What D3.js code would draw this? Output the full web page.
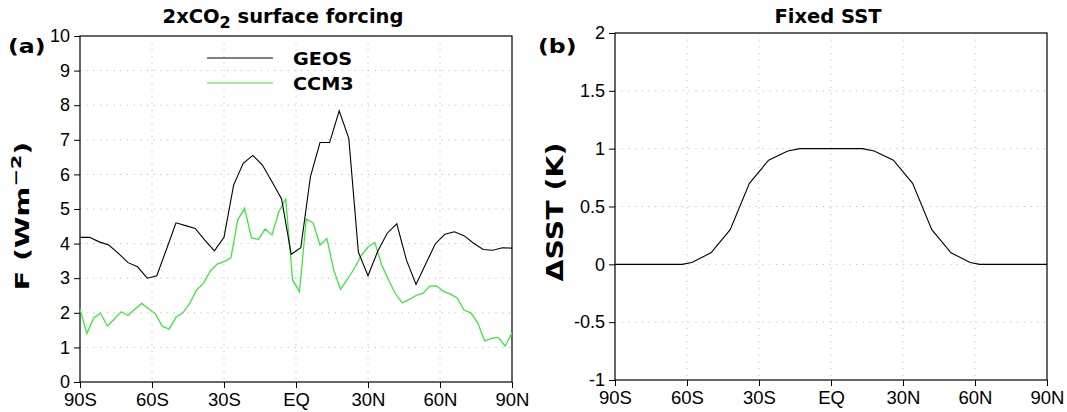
<!DOCTYPE html>
<html><head><meta charset="utf-8">
<script src="https://cdn.jsdelivr.net/npm/d3@7/dist/d3.min.js"></script>
<style>
html,body{margin:0;padding:0;background:#fff;}
svg{display:block;}
.tick text{font-family:"Liberation Sans",Arial,sans-serif;}
</style>
</head><body>
<svg id="c" width="1067" height="412"></svg>
<script>
// ---------- data ----------
// GEOS forcing, 4-degree latitude grid (W m-2)
const geosLat = [-90,-86,-82,-78,-74,-70,-66,-62,-58,-54,-50,-46,-42,-38,-34,-30,-26,-22,-18,-14,-10,-6,-2,2,6,10,14,18,22,26,30,34,38,42,46,50,54,58,62,66,70,74,78,82,86,90];
const geosF = [4.18,4.18,4.05,3.96,3.72,3.45,3.33,3.0,3.07,3.83,4.6,4.52,4.44,4.1,3.79,4.18,5.69,6.32,6.55,6.27,5.79,5.29,3.69,3.88,5.93,6.92,6.92,7.84,7.04,3.75,3.07,3.77,4.3,4.57,3.53,2.82,3.4,3.99,4.27,4.34,4.23,4.01,3.83,3.81,3.88,3.87];
// CCM3 forcing, 64 latitudes from 90S to 90N (W m-2)
const ccm3F = [2.11,1.40,1.85,1.99,1.62,1.82,2.03,1.92,2.10,2.27,2.12,1.97,1.61,1.53,1.87,2.0,2.27,2.66,2.85,3.21,3.41,3.48,3.58,4.68,5.02,4.17,4.12,4.42,4.25,4.92,5.29,2.95,2.61,4.71,4.60,3.96,4.15,3.24,2.68,2.97,3.28,3.65,3.90,4.03,3.38,2.95,2.55,2.29,2.38,2.50,2.56,2.77,2.78,2.62,2.54,2.43,2.08,2.0,1.71,1.19,1.26,1.29,1.04,1.42];
const ccm3Lat = ccm3F.map((d,i)=> -90 + i*180/(ccm3F.length-1));
// Fixed SST perturbation (K)
const sstLat = [-90,-62,-58,-50,-42,-34,-26,-18,-13,13,18,26,34,42,50,58,62,90];
const sstD   = [0,0,0.015,0.1,0.3,0.7,0.9,0.98,1,1,0.98,0.9,0.7,0.3,0.1,0.015,0,0];
// ticks
const latTicks = [-90,-60,-30,0,30,60,90];
const fTicks = [0,1,2,3,4,5,6,7,8,9,10];
const sstTicks = [-1,-0.5,0,0.5,1,1.5,2];
const seriesNames = ["GEOS","CCM3"];
const seriesColors = ["#000000","#3ee63e"];

// ---------- drawing ----------
const svg = d3.select("#c");
const latFmt = d => d===0 ? "EQ" : (d<0 ? (-d)+"S" : d+"N");
const boldFont = '"DejaVu Sans",sans-serif';

function panel(opt){
  const x = d3.scaleLinear().domain([-90,90]).range([opt.x0,opt.x1]);
  const y = d3.scaleLinear().domain(opt.ydom).range([opt.yb,opt.yt]);
  const g = svg.append("g");
  g.append("g").selectAll("line").data(latTicks.slice(1,-1)).join("line")
    .attr("x1",d=>x(d)).attr("x2",d=>x(d)).attr("y1",opt.yt).attr("y2",opt.yb)
    .attr("stroke","#bdbdbd").attr("stroke-width",1).attr("stroke-dasharray","1.2,5.5");
  g.append("g").selectAll("line").data(opt.yticks.slice(1,-1)).join("line")
    .attr("x1",opt.x0).attr("x2",opt.x1).attr("y1",d=>y(d)).attr("y2",d=>y(d))
    .attr("stroke","#bdbdbd").attr("stroke-width",1).attr("stroke-dasharray","1.2,5.5");
  const ax = g.append("g").attr("transform",`translate(0,${opt.yb})`)
    .call(d3.axisBottom(x).tickValues(latTicks).tickFormat(latFmt).tickSize(6).tickPadding(5));
  ax.select(".domain").remove();
  ax.selectAll("text").attr("font-size",18.5).attr("fill","#000");
  const ay = g.append("g").attr("transform",`translate(${opt.x0},0)`)
    .call(d3.axisLeft(y).tickValues(opt.yticks).tickFormat(opt.yfmt).tickSize(6).tickPadding(4));
  ay.select(".domain").remove();
  ay.selectAll("text").attr("font-size",18).attr("fill","#000");
  g.append("rect").attr("x",opt.x0).attr("y",opt.yt).attr("width",opt.x1-opt.x0).attr("height",opt.yb-opt.yt)
    .attr("fill","none").attr("stroke","#000").attr("stroke-width",1.2);
  return {x,y,g};
}

function boldText(tr, size){
  return svg.append("text").attr("transform",tr)
    .attr("font-family",boldFont).attr("font-weight","bold").attr("font-size",size).attr("fill","#000");
}

// Panel (a)
const A = panel({x0:80,x1:512,yt:36,yb:382,ydom:[0,10],yticks:fTicks,yfmt:d=>d});
const lineA = (lats,vals) => d3.line().x((d,i)=>A.x(lats[i])).y(d=>A.y(d))(vals);
A.g.append("path").attr("d",lineA(ccm3Lat,ccm3F)).attr("fill","none").attr("stroke",seriesColors[1]).attr("stroke-width",1.3);
A.g.append("path").attr("d",lineA(geosLat,geosF)).attr("fill","none").attr("stroke",seriesColors[0]).attr("stroke-width",1.1);

// legend
seriesNames.forEach((n,i)=>{
  const ly = 58 + i*25;
  A.g.append("line").attr("x1",207).attr("x2",273).attr("y1",ly).attr("y2",ly)
    .attr("stroke",seriesColors[i]).attr("stroke-width",1.2);
  boldText(`translate(293,${ly+7}) scale(1.1,1)`,17.5).text(n);
});

// titles
const t1 = boldText("translate(283,23)",19.5).attr("text-anchor","middle");
t1.append("tspan").text("2xCO");
t1.append("tspan").attr("dy",5).attr("font-size",16).text("2");
t1.append("tspan").attr("dy",-5).text(" surface forcing");
boldText("translate(8,53) scale(1.18,1)",20).text("(a)");
const yt1 = boldText("translate(29,216) rotate(-90) scale(1.5,1.05)",19).attr("text-anchor","middle");
yt1.append("tspan").text("F (Wm");
yt1.append("tspan").attr("dy",-8).attr("font-size",14).text("\u22122");
yt1.append("tspan").attr("dy",8).text(")");

// Panel (b)
const fmtB = d => d===0 ? "0" : String(d);
const B = panel({x0:615,x1:1047,yt:33,yb:380,ydom:[-1,2],yticks:sstTicks,yfmt:fmtB});
B.g.append("path").attr("d",d3.line().x((d,i)=>B.x(sstLat[i])).y(d=>B.y(d))(sstD))
  .attr("fill","none").attr("stroke","#000").attr("stroke-width",1.1);
boldText("translate(828,23)",19.5).attr("text-anchor","middle").text("Fixed SST");
boldText("translate(538,53) scale(1.18,1)",20).text("(b)");
boldText("translate(563,212) rotate(-90) scale(1.42,1.15)",20).attr("text-anchor","middle").text("\u0394SST (K)");
</script>
</body></html>
